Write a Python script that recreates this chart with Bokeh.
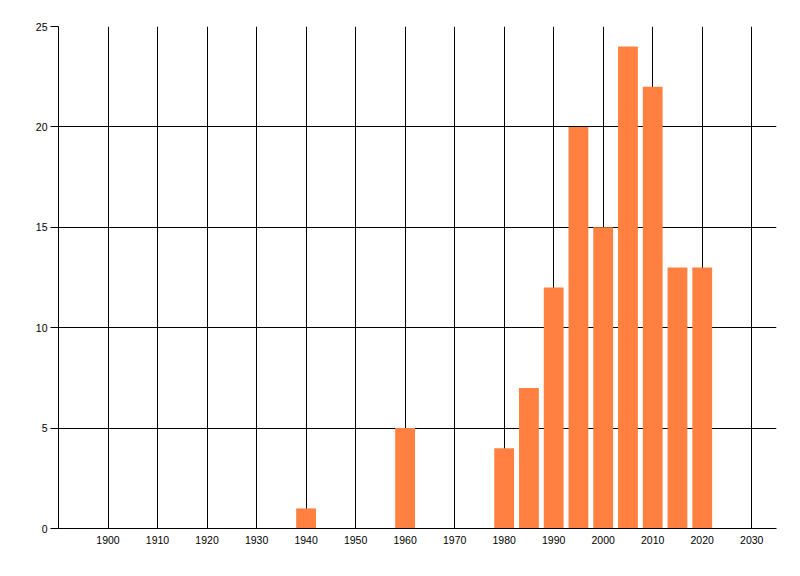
from bokeh.plotting import figure
from bokeh.models import FixedTicker, Range1d
from bokeh.embed import file_html
from bokeh.resources import INLINE

# counts per year bucket
years = [1940, 1960, 1980, 1985, 1990, 1995, 2000, 2005, 2010, 2015, 2020]
counts = [1, 5, 4, 7, 12, 20, 15, 24, 22, 13, 13]
x_ticks = [1900, 1910, 1920, 1930, 1940, 1950, 1960, 1970, 1980, 1990, 2000, 2010, 2020, 2030]
y_ticks = [0, 5, 10, 15, 20, 25]

FONT = "Liberation Sans"

p = figure(width=792, height=568, output_backend="svg", toolbar_location=None,
           x_range=Range1d(1890, 2035), y_range=Range1d(0, 25),
           min_border_left=58, min_border_right=16, min_border_top=26, min_border_bottom=40)
p.outline_line_color = None
p.background_fill_color = "white"
p.border_fill_color = "white"

p.vbar(x=years, top=counts, bottom=0, width=4, fill_color="#FF8040", line_color=None)

p.xaxis.ticker = FixedTicker(ticks=x_ticks)
p.yaxis.ticker = FixedTicker(ticks=y_ticks)
p.xgrid.ticker = FixedTicker(ticks=x_ticks)
p.ygrid.ticker = FixedTicker(ticks=y_ticks)

for g in (p.xgrid, p.ygrid):
    g.grid_line_color = "black"
    g.grid_line_width = 1
    g.grid_line_alpha = 1

for ax in (p.xaxis, p.yaxis):
    ax.axis_line_color = "black"
    ax.minor_tick_line_color = None
    ax.major_label_text_font = FONT
    ax.major_label_text_font_size = "10.5px"
    ax.major_label_text_color = "black"

p.xaxis.major_tick_in = 0
p.xaxis.major_tick_out = 0
p.xaxis.major_label_standoff = 7
p.yaxis.major_tick_in = 0
p.yaxis.major_tick_out = 8
p.yaxis.major_tick_line_color = "black"
p.yaxis.major_label_standoff = 3

open("out.html", "w").write(file_html(p, INLINE))
